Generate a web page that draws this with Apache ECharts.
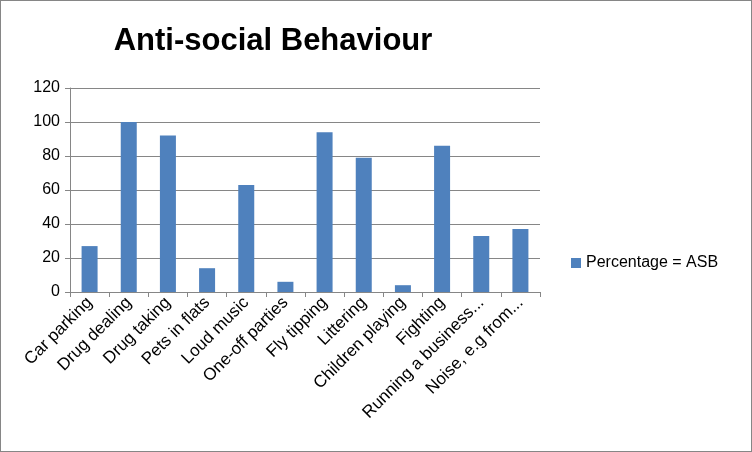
<!DOCTYPE html>
<html>
<head>
<meta charset="UTF-8">
<script src="https://cdn.jsdelivr.net/npm/echarts@6/dist/echarts.min.js"></script>
<style>
  body { margin: 0; background: #fff; }
  #chart { width: 750px; height: 450px; border: 1px solid #868686; }
</style>
</head>
<body>
<div id="chart"></div>
<script>
var categories = ['Car parking', 'Drug dealing', 'Drug taking', 'Pets in flats', 'Loud music',
  'One-off parties', 'Fly tipping', 'Littering', 'Children playing', 'Fighting',
  'Running a business...', 'Noise, e.g from...'];
var values = [27, 100, 92, 14, 63, 6, 94, 79, 4, 86, 33, 37];

var chart = echarts.init(document.getElementById('chart'));
chart.setOption({
  animation: false,
  title: {
    text: 'Anti-social Behaviour',
    left: 267, top: 20, textAlign: 'center',
    textStyle: { fontFamily: 'Liberation Sans', fontSize: 31, fontWeight: 'bold', color: '#000' }
  },
  legend: {
    data: ['Percentage = ASB'],
    left: 565, top: 249,
    itemWidth: 10, itemHeight: 10, itemGap: 6,
    icon: 'rect',
    textStyle: { fontFamily: 'Liberation Sans', fontSize: 16, color: '#000' }
  },
  grid: { left: 69, top: 87, width: 470, height: 204, containLabel: false },
  xAxis: {
    type: 'category',
    data: categories,
    axisTick: { show: true, length: 5, lineStyle: { color: '#868686' } },
    axisLine: { lineStyle: { color: '#868686' } },
    axisLabel: { rotate: 45, interval: 0, fontFamily: 'Liberation Sans', fontSize: 17, color: '#000', margin: 8 }
  },
  yAxis: {
    type: 'value', min: 0, max: 120, interval: 20,
    axisLine: { show: true, lineStyle: { color: '#868686' } },
    axisTick: { show: true, length: 5, lineStyle: { color: '#868686' } },
    splitLine: { lineStyle: { color: '#868686' } },
    axisLabel: { fontFamily: 'Liberation Sans', fontSize: 16, color: '#000', margin: 10 }
  },
  series: [{
    name: 'Percentage = ASB',
    type: 'bar',
    data: values,
    barWidth: 16,
    itemStyle: { color: '#4f81bd' }
  }]
});
</script>
</body>
</html>
